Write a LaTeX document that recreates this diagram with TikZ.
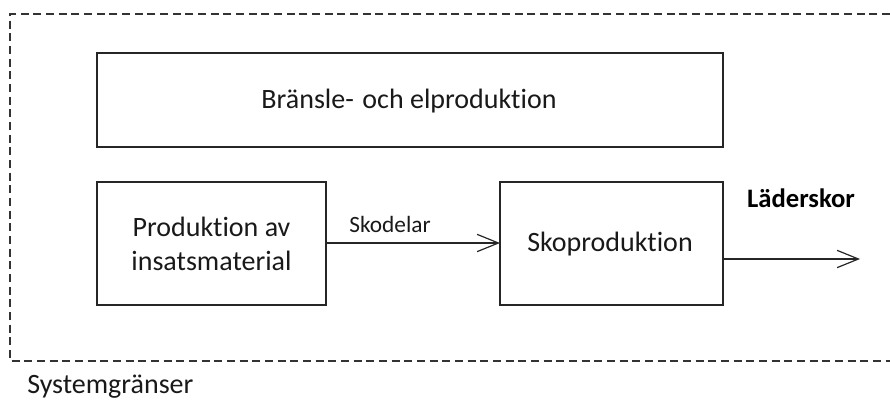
\documentclass[tikz,border=0pt]{standalone}
\usepackage{fontspec}
\setmainfont{Carlito}[Ligatures=NoCommon]
\usetikzlibrary{arrows.meta}
\begin{document}
\begin{tikzpicture}[x=0.75pt,y=-0.75pt,
  box/.style={draw=black!85,line width=0.8pt,minimum width=0pt},
  lbl/.style={font=\fontsize{21}{25}\selectfont,text=black!90},
  flow/.style={draw=black!85,line width=0.8pt,-{Straight Barb[length=16pt,width=13pt,line width=0.9pt]}},
  border/.style={draw=black!80,line width=0.8pt,dash pattern=on 6pt off 3.5pt}]
\useasboundingbox (0,0) rectangle (890,403);
\draw[border] (890,14) -- (10,14) -- (10,361) -- (890,361);
\draw[box] (97,53) rectangle (723,147);
\node[lbl] (top) at (409,101) {Bränsle-\hspace{0.08em} och elproduktion};
\draw[box] (97,182) rectangle (326,305);
\node[lbl,align=center] (left) at (211.5,244) {Produktion av\\insatsmaterial};
\coordinate (leftE) at (326,243);
\draw[box] (500,182) rectangle (723,305);
\node[lbl] (mid) at (610,244) {Skoproduktion};
\coordinate (midW) at (500,243);
\coordinate (midE) at (723,259);
\coordinate (out) at (860,259);
\draw[flow] (leftE) -- (midW);
\node[font=\fontsize{17.5}{20}\selectfont,text=black!90] (sko) at (390,224) {Skodelar};
\draw[flow] (midE) -- (out);
\node[font=\bfseries\fontsize{20}{24}\selectfont] (lad) at (801,198) {Läderskor};
\node[lbl,anchor=west,inner sep=0pt] (sys) at (27,387) {Systemgränser};
\end{tikzpicture}
\end{document}
